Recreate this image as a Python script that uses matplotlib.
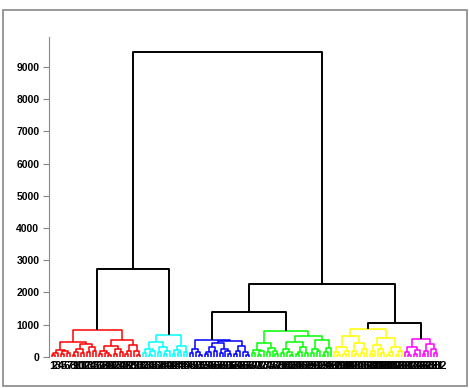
import matplotlib
matplotlib.use("Agg")
import matplotlib.pyplot as plt
from matplotlib.patches import Rectangle

# Cluster sub-trees: (merge height, left, right), a leaf is 0
red = (850,
       (470,
        (230, (130, (60, 0, 0), 0), (170, (80, 0, 0), (120, 0, 0))),
        (390, (250, (150, (70, 0, 0), 0), (110, 0, 0)), (310, (140, 0, 0), (200, 0, 0)))),
       (520,
        (330, (180, (90, 0, 0), (120, 0, (60, 0, 0))), (240, (100, 0, 0), (150, 0, 0))),
        (360, (200, (80, 0, 0), 0), (170, 0, (70, 0, 0)))))

cyan = (690,
        (470,
         (260, (120, 0, 0), (180, (70, 0, 0), 0)),
         (300, (150, 0, 0), (200, (90, 0, 0), 0))),
        (330, (210, (100, 0, 0), (140, 0, 0)), (160, 0, 0)))

blue = (535,
        (250, (120, 0, 0), (160, 0, (70, 0, 0))),
        (480,
         (420,
          (300, (150, (80, 0, 0), 0), (190, 0, 0)),
          (260, (130, 0, 0), (170, 0, (90, 0, 0)))),
         (330, (200, (100, 0, 0), 0), (140, 0, (60, 0, 0)))))

green = (790,
         (420, (230, (110, 0, 0), (170, (60, 0, 0), 0)),
               (280, (140, 0, 0), (190, 0, (80, 0, 0)))),
         (640,
          (450, (260, (120, 0, 0), (150, 0, (70, 0, 0))),
                (310, (160, (90, 0, 0), 0), (130, 0, 0))),
          (520, (240, (110, 0, 0), (180, 0, 0)),
                (290, (150, (60, 0, 0), 0), 0))))

yellow = (870,
          (650, (300, (140, 0, (50, 0, 0)), (200, (80, 0, 0), 0)),
                (420, (180, 0, (90, 0, 0)), (250, (120, 0, 0), 0))),
          (600, (380, (200, (100, 0, 0), 0), (260, 0, (130, 0, 0))),
                (310, (150, (60, 0, 0), 0), (170, (70, 0, 0), 0))))

magenta = (560,
           (300, (150, 0, (70, 0, 0)), (210, (90, 0, 0), 0)),
           (400, (180, (80, 0, 0), 0), (240, 0, (120, 0, 0))))

cluster_colors = {'red': '#ff0000', 'cyan': '#00ffff', 'blue': '#0000ff',
                  'green': '#00ff00', 'yellow': '#ffff00', 'magenta': '#ff00ff'}
clusters = {'red': red, 'cyan': cyan, 'blue': blue,
            'green': green, 'yellow': yellow, 'magenta': magenta}

# top links (black), leaves are cluster names
top_tree = (9470,
            (2720, 'red', 'cyan'),
            (2260, (1390, 'blue', 'green'), (1050, 'yellow', 'magenta')))

yticks = [0, 1000, 2000, 3000, 4000, 5000, 6000, 7000, 8000, 9000]

fig = plt.figure(figsize=(4.69, 3.88), dpi=100)
ax = fig.add_axes([0.1045, 0.080, 0.834, 0.825])

counter = [0]


def draw(node, color):
    if isinstance(node, str):
        return draw(clusters[node], cluster_colors[node])
    if node == 0:
        counter[0] += 1
        return counter[0], 0
    h, a, b = node
    xa, ha = draw(a, color)
    xb, hb = draw(b, color)
    ax.plot([xa, xa, xb, xb], [ha, h, h, hb], color=color,
            lw=1.4 if color == 'black' else 1.1, solid_capstyle='butt')
    return (xa + xb) / 2.0, h


draw(top_tree, 'black')
n = counter[0]

ax.set_xlim(0, n + 1)
ax.set_ylim(0, 9930)
ax.set_yticks(yticks)
ax.set_yticklabels([str(t) for t in yticks], fontsize=7.5, fontweight='bold',
                   family='Liberation Sans')
ax.set_xticks(range(1, n + 1))
ax.set_xticklabels([str(i) for i in range(1, n + 1)], fontsize=8, fontweight='bold',
                   family='Liberation Sans')
ax.tick_params(axis='x', length=0, pad=3)
ax.tick_params(axis='y', length=4, color='#888888', direction='out', pad=3)
for s in ['top', 'right', 'bottom']:
    ax.spines[s].set_visible(False)
ax.spines['left'].set_color('#888888')

fig.patches.append(Rectangle((3 / 469, 2 / 388), 464 / 469, 376 / 388,
                             transform=fig.transFigure, fill=False,
                             edgecolor='#888888', lw=1.2))

fig.savefig('out.png', dpi=100)
